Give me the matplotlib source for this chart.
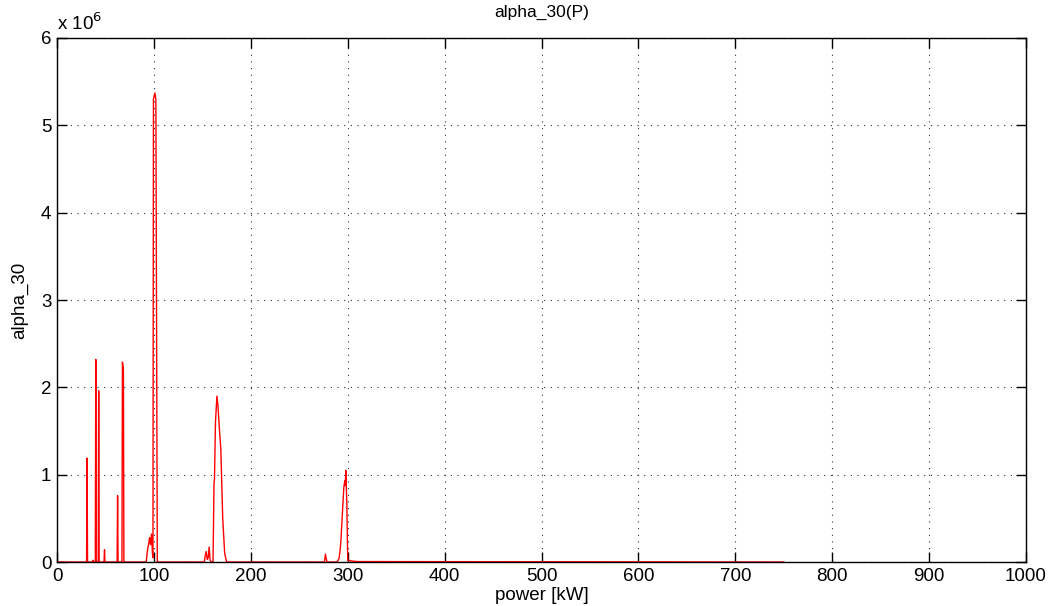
import matplotlib
matplotlib.use('Agg')
import matplotlib.pyplot as plt
from matplotlib.ticker import FuncFormatter

plt.rcParams['font.family'] = ['Liberation Sans', 'DejaVu Sans']

## power [kW] and alpha_30 values
power = [0, 30.5, 31, 31.5, 36.5, 37, 37.5, 39.5, 40, 40.5, 42.5, 43, 43.5,
         48.5, 49, 49.5, 62, 62.5, 63, 67, 67.5, 68.5, 69,
         92, 93.5, 94.5, 95.5, 96.5, 97.5, 98.5, 99, 99.5, 101, 102, 103.5, 104,
         152, 153, 154, 155, 156, 157, 158, 159, 161, 162, 162.5, 163.5, 165,
         166, 168, 169, 171, 173, 175,
         276, 277, 278.5, 289, 291, 292, 293, 294.5, 296, 297, 297.5, 298, 299,
         300, 305, 310, 750]
alpha_30 = [0, 0, 1.19, 0, 0, 0.02, 0, 0, 2.32, 0, 0, 1.96, 0,
            0, 0.14, 0, 0, 0.76, 0, 0, 2.29, 2.2, 0,
            0, 0.15, 0.2, 0.28, 0.2, 0.32, 0.1, 0.05, 5.3, 5.37, 5.3, 0, 0,
            0, 0.08, 0.12, 0.03, 0.05, 0.17, 0.02, 0, 0, 0.9, 0.95, 1.6, 1.9,
            1.8, 1.45, 1.3, 0.5, 0.1, 0,
            0, 0.09, 0, 0, 0.04, 0.12, 0.25, 0.56, 0.86, 0.93, 0.88, 1.05, 0.7,
            0.02, 0.01, 0.005, 0]
alpha_30 = [v * 1e6 for v in alpha_30]

xticks = list(range(0, 1001, 100))
yticks = [v * 1e6 for v in range(0, 7)]

fig = plt.figure(figsize=(10.58, 6.06), dpi=100)
ax = fig.add_axes([0.0539, 0.0726, 0.9159, 0.8647])

ax.plot(power, alpha_30, color='red', lw=1.0)

ax.set_xlim(0, 1000)
ax.set_ylim(0, 6e6)
ax.set_xticks(xticks)
ax.set_yticks(yticks)
ax.yaxis.set_major_formatter(FuncFormatter(lambda v, p: '%d' % round(v / 1e6)))
ax.tick_params(direction='in', length=7, width=1, top=True, right=True,
               labelsize=13.5, pad=4)
ax.grid(True, color='#333333', linestyle=(0, (1, 5)), linewidth=0.8)
for s in ax.spines.values():
    s.set_linewidth(1.0)

ax.set_title('alpha_30(P)', fontsize=12.5, pad=15)
ax.set_xlabel('power [kW]', fontsize=13.5, labelpad=2)
ax.set_ylabel('alpha_30', fontsize=13.5, labelpad=9)
ax.text(0.0, 1.008, r'x 10$^{6}$', transform=ax.transAxes, fontsize=13.5,
        ha='left', va='bottom')

fig.savefig('out.png', dpi=100)
